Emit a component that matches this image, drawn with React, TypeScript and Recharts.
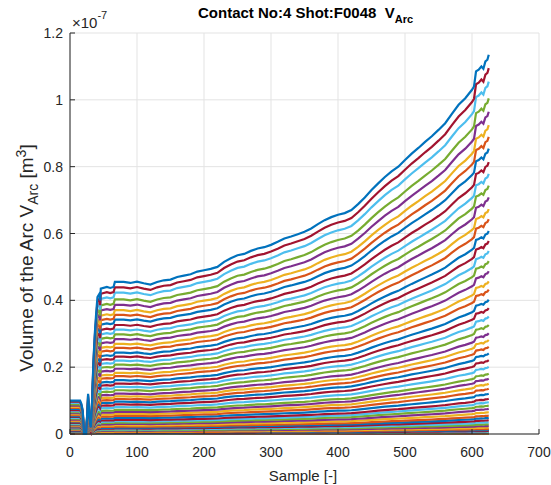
import { LineChart, Line, XAxis, YAxis, CartesianGrid } from 'recharts'

// sample positions and the shape of the top (largest) trace, in units of 1e-7 m^3
const sampleX = [
  0, 15, 17, 19, 21, 24, 26, 27, 29, 31, 33, 35, 37, 39, 41, 44, 45, 46, 55, 60, 65, 67,
  80, 90, 100, 110, 120, 130, 140, 150, 160, 170, 180, 190, 200, 210, 220, 230, 240, 250,
  260, 270, 280, 290, 300, 310, 320, 330, 340, 350, 360, 370, 380, 390, 400, 410, 420,
  430, 440, 450, 460, 470, 480, 490, 500, 510, 520, 530, 540, 550, 560, 570, 580, 590,
  600, 603, 606, 610, 614, 617, 620, 623, 625,
]
const topProfile = [
  0.1, 0.1, 0.09, 0.07, 0.0, 0.0, 0.07, 0.12, 0.05, 0.02, 0.1, 0.22, 0.3, 0.36, 0.41, 0.42,
  0.4, 0.435, 0.44, 0.437, 0.44, 0.455, 0.455, 0.452, 0.456, 0.451, 0.447, 0.455, 0.46,
  0.462, 0.47, 0.474, 0.478, 0.486, 0.49, 0.494, 0.5, 0.515, 0.526, 0.535, 0.539, 0.548,
  0.555, 0.559, 0.566, 0.575, 0.585, 0.591, 0.598, 0.605, 0.615, 0.628, 0.64, 0.649, 0.656,
  0.661, 0.67, 0.688, 0.708, 0.73, 0.75, 0.769, 0.786, 0.8, 0.82, 0.839, 0.856, 0.874,
  0.891, 0.91, 0.93, 0.958, 0.985, 1.005, 1.03, 1.04, 1.085, 1.09, 1.1, 1.093, 1.115, 1.12,
  1.135,
]
// final value of every trace, top to bottom
const endLevels = [
  1.13, 1.09, 1.05, 1.0, 0.96, 0.92, 0.885, 0.85, 0.81, 0.775, 0.74, 0.705, 0.67, 0.64,
  0.605, 0.575, 0.545, 0.515, 0.485, 0.455, 0.43, 0.4, 0.375, 0.35, 0.325, 0.3, 0.28, 0.26,
  0.24, 0.22, 0.2, 0.18, 0.165, 0.15, 0.135, 0.12, 0.105, 0.095, 0.085, 0.075, 0.065, 0.055,
  0.048, 0.041, 0.035, 0.029, 0.024, 0.019, 0.015, 0.012, 0.009, 0.007, 0.005, 0.003, 0.002,
  0.001, 0.0005,
]
const xTicks = [0, 100, 200, 300, 400, 500, 600, 700]
const yTicks = [0, 0.2, 0.4, 0.6, 0.8, 1, 1.2]

const colors = ['#0072BD', '#D95319', '#EDB120', '#7E2F8E', '#77AC30', '#4DBEEE', '#A2142F']

const levels = [...endLevels].reverse()
const topEnd = endLevels[0]
const data = sampleX.map((x, j) => {
  const row: Record<string, number> = { x }
  levels.forEach((lv, i) => {
    row['s' + i] = (topProfile[j] * lv) / topEnd
  })
  return row
})

const FONT = '"Liberation Sans", Arial, Helvetica, sans-serif'
const TXT = '#262626'

function XTick({ x, y, payload }: any) {
  return (
    <g>
      <line x1={x} x2={x} y1={y} y2={y - 5} stroke={TXT} />
      <text x={x} y={y + 23} textAnchor="middle" fontSize={14} fill={TXT} fontFamily={FONT}>
        {payload.value}
      </text>
    </g>
  )
}

function YTick({ x, y, payload }: any) {
  return (
    <g>
      <line x1={x} x2={x + 5} y1={y} y2={y} stroke={TXT} />
      <text x={x - 7} y={y + 5} textAnchor="end" fontSize={14} fill={TXT} fontFamily={FONT}>
        {String(Number(payload.value.toFixed(1)))}
      </text>
    </g>
  )
}

export default function App() {
  return (
    <div style={{ position: 'absolute', left: 0, top: 0, width: 551, height: 485, background: '#fff' }}>
      <LineChart
        width={551}
        height={485}
        data={data}
        margin={{ top: 33, right: 12, bottom: 0, left: 0 }}
      >
        <CartesianGrid stroke="#e3e3e3" />
        <XAxis
          dataKey="x"
          type="number"
          domain={[0, 700]}
          ticks={xTicks}
          height={51}
          tickSize={0}
          tickMargin={0}
          tickLine={false}
          axisLine={{ stroke: TXT }}
          tick={<XTick />}
        />
        <YAxis
          type="number"
          domain={[0, 1.2]}
          ticks={yTicks}
          width={70}
          tickSize={0}
          tickMargin={0}
          tickLine={false}
          axisLine={{ stroke: TXT }}
          tick={<YTick />}
        />
        {levels.map((_, i) => (
          <Line
            key={i}
            dataKey={'s' + i}
            type="linear"
            stroke={colors[i % 7]}
            strokeWidth={2.2}
            dot={false}
            isAnimationActive={false}
          />
        ))}
      </LineChart>
      <svg
        width={551}
        height={485}
        style={{ position: 'absolute', left: 0, top: 0, pointerEvents: 'none' }}
        fontFamily={FONT}
      >
        <text x={198} y={18} fontSize={15} fontWeight="bold" fill="#000" xmlSpace="preserve">
          {'Contact No:4 Shot:F0048  V'}
          <tspan fontSize={11} dy={5}>Arc</tspan>
        </text>
        <text x={72} y={28} fontSize={15} fill={TXT}>
          ×10<tspan fontSize={11} dy={-9}>-7</tspan>
        </text>
        <text x={303} y={481} fontSize={15} fill={TXT} textAnchor="middle">
          Sample [-]
        </text>
        <text transform="translate(33,258) rotate(-90)" fontSize={19} fill={TXT} textAnchor="middle">
          Volume of the Arc V<tspan fontSize={14} dy={5}>Arc</tspan>
          <tspan dy={-5}> [m</tspan>
          <tspan fontSize={14} dy={-7}>3</tspan>
          <tspan dy={7}>]</tspan>
        </text>
      </svg>
    </div>
  )
}
